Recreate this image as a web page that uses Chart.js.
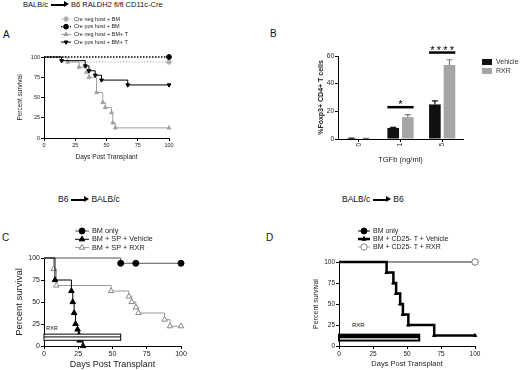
<!DOCTYPE html>
<html>
<head>
<meta charset="utf-8">
<script src="https://cdn.jsdelivr.net/npm/chart.js@4/dist/chart.umd.min.js"></script>
<style>
  body { margin: 0; background: #fff; width: 520px; height: 370px; position: relative; overflow: hidden;
         font-family: "Liberation Sans", Arial, sans-serif; color: #111; }
  canvas { position: absolute; }
  .lbl { position: absolute; line-height: 1; white-space: nowrap; }
  .arr { display: inline-block; position: relative; width: 14px; height: 2.5px; background: #000;
         vertical-align: middle; margin: 0 6px 0 3px; }
  .arr:after { content: ""; position: absolute; right: -4px; top: -2.5px; border-left: 5px solid #000;
               border-top: 3.75px solid transparent; border-bottom: 3.75px solid transparent; }
</style>
</head>
<body>
<div class="lbl" style="left:23px;top:1px;font-size:7.5px">BALB/c<span class="arr"></span>B6 RALDH2 fl/fl CD11c-Cre</div>
<div class="lbl" style="left:3px;top:30px;font-size:10px">A</div>
<div class="lbl" style="left:270px;top:29px;font-size:10px">B</div>
<div class="lbl" style="left:58px;top:195px;font-size:8.5px">B6<span class="arr"></span>BALB/c</div>
<div class="lbl" style="left:342px;top:195px;font-size:8.5px">BALB/c<span class="arr"></span>B6</div>
<div class="lbl" style="left:2px;top:233px;font-size:10px">C</div>
<div class="lbl" style="left:266px;top:233px;font-size:10px">D</div>
<div class="lbl" style="left:46px;top:326px;font-size:5.5px">RXR</div>
<div class="lbl" style="left:352px;top:322px;font-size:6px">RXR</div>

<canvas id="chartA" width="185" height="165" style="left:0;top:0"></canvas>
<canvas id="chartB" width="215" height="170" style="left:305px;top:0"></canvas>
<canvas id="chartC" width="260" height="180" style="left:0;top:190px"></canvas>
<canvas id="chartD" width="220" height="180" style="left:300px;top:190px"></canvas>

<script>
// Panel A - survival, RALDH2 fl/fl CD11c-Cre hosts
const aNegBmDays = [0, 15, 100];
const aNegBmPct = [100, 93.75, 93.75];
const aPosBmDays = [0, 100];
const aPosBmPct = [100, 100];
const aNegTDays = [0, 19, 28, 34, 36, 42, 47, 49, 54, 55, 57, 100];
const aNegTPct = [100, 93.75, 87.5, 81.25, 75, 56.25, 43.75, 37.5, 31.25, 18.75, 12.5, 12.5];
const aPosTDays = [0, 14, 33, 36, 41, 46, 67, 100];
const aPosTPct = [100, 95.5, 89, 83, 77.5, 71.5, 65.5, 65.5];

// Panel B - %Foxp3+ of CD4+ T cells
const bDoses = ['0', '1', '5'];
const bVehicle = [0.5, 8, 25];
const bVehicleErr = [0.2, 0.4, 2.6];
const bRxr = [0.3, 15.8, 53.5];
const bRxrErr = [0.1, 1.8, 3.8];
const bSigLabels = ['', '*', '****'];
const bSigLevel = [null, 23, 62.5];

// Panel C - B6 -> BALB/c
const cBmDays = [0, 56, 67, 100];
const cBmPct = [100, 94, 94, 94];
const cVehDays = [0, 8, 20, 21, 22, 23, 24.5, 25.5, 26, 28.5];
const cVehPct = [100, 75, 62.5, 50, 37.5, 25, 18.75, 12.5, 6.25, 0];
const cRxrDays = [0, 7, 9, 49, 62, 64, 67, 69, 88, 92, 100];
const cRxrPct = [100, 87.5, 68.75, 62.5, 56.25, 50, 43.75, 37.5, 30, 22.5, 22.5];
const cRxrWindow = [0, 56];

// Panel D - BALB/c -> B6
const dBmDays = [0, 100];
const dBmPct = [100, 100];
const dVehDays = [0, 35, 40, 42, 45, 47, 51, 70, 100];
const dVehPct = [100, 87.5, 75, 62.5, 50, 37.5, 25, 12.5, 12.5];
const dRxrDays = [0, 100];
const dRxrPct = [100, 100];
const dRxrWindow = [0, 59];

const FONT = '"Liberation Sans", Arial, sans-serif';

// legend drawn beside/above the plot, one row per dataset
const kmLegend = {
  id: 'kmLegend',
  afterDraw(chart, args, o) {
    const ctx = chart.ctx;
    ctx.save();
    ctx.font = o.size + 'px ' + FONT;
    ctx.textBaseline = 'middle';
    chart.data.datasets.forEach((ds, i) => {
      const y = o.y + i * o.gap;
      ctx.strokeStyle = ds.borderColor;
      ctx.lineWidth = ds.borderWidth;
      ctx.setLineDash(ds.borderDash || []);
      ctx.beginPath();
      ctx.moveTo(o.x, y);
      ctx.lineTo(o.x + o.len, y);
      ctx.stroke();
      ctx.setLineDash([]);
      ctx.fillStyle = ds.pointBackgroundColor;
      ctx.strokeStyle = ds.pointBorderColor;
      ctx.lineWidth = 1;
      Chart.helpers.drawPoint(ctx, { pointStyle: ds.pointStyle, rotation: ds.pointRotation, radius: ds.markR, borderWidth: 1 },
        o.x + o.len / 2, y);
      ctx.fillStyle = '#222';
      ctx.fillText(ds.label, o.x + o.len + 3, y);
    });
    ctx.restore();
  }
};

// RXR treatment window under the survival curves
const rxrWindow = {
  id: 'rxrWindow',
  afterDatasetsDraw(chart, args, o) {
    if (!o.days) return;
    const ctx = chart.ctx, x = chart.scales.x, y = chart.scales.y;
    const l = x.getPixelForValue(o.days[0]), r = x.getPixelForValue(o.days[1]);
    const t = y.getPixelForValue(13.5), m = y.getPixelForValue(o.mid), b = y.getPixelForValue(6.5);
    ctx.save();
    ctx.strokeStyle = '#000';
    ctx.fillStyle = '#fff';
    ctx.fillRect(l, t, r - l, b - t);
    if (o.bandFill) {
      ctx.fillStyle = '#000';
      ctx.fillRect(l, t, r - l, m - t);
    }
    ctx.lineWidth = o.width;
    ctx.strokeRect(l, t, r - l, b - t);
    ctx.beginPath();
    ctx.moveTo(l, m);
    ctx.lineTo(r, m);
    ctx.stroke();
    ctx.restore();
  }
};

function kmChart(id, sets, c) {
  return new Chart(document.getElementById(id), {
    type: 'line',
    data: {
      datasets: sets.map(s => ({
        label: s.label,
        data: s.days.map((d, i) => ({ x: d, y: s.pct[i] })),
        stepped: true,
        borderColor: s.color,
        borderWidth: s.width,
        borderDash: s.dash || [],
        pointStyle: s.style,
        pointRotation: s.rot || 0,
        pointRadius: p => (p.dataIndex === 0 || (s.endOnly && p.dataIndex < s.days.length - 1)) ? 0 : s.r,
        pointBackgroundColor: s.fill,
        pointBorderColor: s.edge,
        pointBorderWidth: 1,
        markR: s.legendR || s.r,
        order: s.order || 0,
        clip: false
      }))
    },
    options: {
      responsive: false,
      animation: false,
      layout: { padding: { left: 0, top: c.top, right: c.right, bottom: 0 } },
      plugins: {
        legend: { display: false },
        tooltip: { enabled: false },
        kmLegend: c.legend,
        rxrWindow: c.window || {}
      },
      scales: {
        x: {
          type: 'linear', min: 0, max: 100,
          afterFit: s => { s.height = c.xh; },
          ticks: { stepSize: 25, padding: 1, color: '#222', font: { size: c.tick, family: FONT } },
          grid: { display: true, drawOnChartArea: false, drawTicks: true, tickLength: 3, color: '#000' },
          border: { color: '#000' },
          title: { display: true, text: 'Days Post Transplant', color: '#222',
                   font: { size: c.xTitle, family: FONT }, padding: { top: 0, bottom: c.xPad } }
        },
        y: {
          min: 0, max: 100,
          afterFit: s => { s.width = c.yw; },
          ticks: { stepSize: 25, padding: 1, color: '#222', font: { size: c.tick, family: FONT } },
          grid: { display: true, drawOnChartArea: false, drawTicks: true, tickLength: 3, color: '#000' },
          border: { color: '#000' },
          title: { display: true, text: 'Percent survival', color: '#222',
                   font: { size: c.yTitle, family: FONT }, padding: { top: c.yPad, bottom: 0 } }
        }
      }
    },
    plugins: [rxrWindow, kmLegend]
  });
}

kmChart('chartA', [
  { label: 'Cre neg host + BM', days: aNegBmDays, pct: aNegBmPct, color: '#b0b0b0', width: 1, dash: [1.5, 1.5],
    style: 'circle', r: 2.2, fill: '#b0b0b0', edge: '#b0b0b0', endOnly: true, order: 4 },
  { label: 'Cre pos host + BM', days: aPosBmDays, pct: aPosBmPct, color: '#000', width: 1.3, dash: [1.5, 1.5],
    style: 'circle', r: 2.4, fill: '#000', edge: '#000', endOnly: true, order: 1 },
  { label: 'Cre neg host + BM+ T', days: aNegTDays, pct: aNegTPct, color: '#a0a0a0', width: 1,
    style: 'triangle', r: 2.2, fill: '#a0a0a0', edge: '#a0a0a0', order: 3 },
  { label: 'Cre pos host + BM+ T', days: aPosTDays, pct: aPosTPct, color: '#000', width: 1,
    style: 'triangle', rot: 180, r: 2.2, fill: '#000', edge: '#000', order: 2 }
], { top: 57, right: 16, xh: 27, yw: 44, tick: 5.5, xTitle: 6.5, xPad: 4, yTitle: 6.5, yPad: 16,
     legend: { x: 61, y: 19, gap: 7.7, len: 10, size: 5.5 } });

kmChart('chartC', [
  { label: 'BM only', days: cBmDays, pct: cBmPct, color: '#555', width: 1,
    style: 'circle', r: 3, fill: '#000', edge: '#000', order: 3 },
  { label: 'BM + SP + Vehicle', days: cVehDays, pct: cVehPct, color: '#000', width: 1,
    style: 'triangle', r: 3.2, fill: '#000', edge: '#000', order: 1 },
  { label: 'BM + SP + RXR', days: cRxrDays, pct: cRxrPct, color: '#999', width: 1,
    style: 'triangle', r: 3.2, fill: '#fff', edge: '#888', order: 2 }
], { top: 68, right: 79, xh: 24, yw: 44, tick: 7, xTitle: 9, xPad: 0, yTitle: 9.5, yPad: 14,
     legend: { x: 75, y: 41, gap: 8.3, len: 14, size: 7.3 },
     window: { days: cRxrWindow, mid: 10.3, width: 1, bandFill: false } });

kmChart('chartD', [
  { label: 'BM only', days: dBmDays, pct: dBmPct, color: '#000', width: 1,
    style: 'circle', r: 3, fill: '#000', edge: '#000', order: 3 },
  { label: 'BM + CD25- T + Vehicle', days: dVehDays, pct: dVehPct, color: '#000', width: 2.5,
    style: 'triangle', r: 2, legendR: 2.5, fill: '#000', edge: '#000', order: 1 },
  { label: 'BM + CD25- T + RXR', days: dRxrDays, pct: dRxrPct, color: '#aaa', width: 1,
    style: 'circle', r: 3.2, fill: '#fff', edge: '#888', order: 2 }
], { top: 72, right: 45, xh: 24, yw: 39, tick: 6.5, xTitle: 7.5, xPad: 2, yTitle: 7, yPad: 12,
     legend: { x: 58, y: 41, gap: 8, len: 12, size: 7 },
     window: { days: dRxrWindow, mid: 10.5, width: 2, bandFill: true } });

// Panel B helpers
const errBars = {
  id: 'errBars',
  afterDatasetsDraw(chart) {
    const ctx = chart.ctx, y = chart.scales.y;
    ctx.save();
    chart.data.datasets.forEach((ds, di) => {
      chart.getDatasetMeta(di).data.forEach((bar, i) => {
        const top = y.getPixelForValue(ds.data[i] + ds.err[i]);
        ctx.strokeStyle = ds.backgroundColor === '#111' ? '#111' : '#777';
        ctx.lineWidth = 1.2;
        ctx.beginPath();
        ctx.moveTo(bar.x, bar.y);
        ctx.lineTo(bar.x, top);
        ctx.moveTo(bar.x - 3, top);
        ctx.lineTo(bar.x + 3, top);
        ctx.stroke();
      });
    });
    ctx.restore();
  }
};

const sigBars = {
  id: 'sigBars',
  afterDatasetsDraw(chart, args, o) {
    const ctx = chart.ctx, y = chart.scales.y;
    ctx.save();
    o.levels.forEach((lv, i) => {
      if (lv == null) return;
      const b0 = chart.getDatasetMeta(0).data[i], b1 = chart.getDatasetMeta(1).data[i];
      const l = b0.x - b0.width / 2, r = b1.x + b1.width / 2, py = y.getPixelForValue(lv);
      ctx.strokeStyle = '#000';
      ctx.lineWidth = 2.5;
      ctx.beginPath();
      ctx.moveTo(l, py);
      ctx.lineTo(r, py);
      ctx.stroke();
      ctx.fillStyle = '#000';
      ctx.font = '11px ' + FONT;
      ctx.textAlign = 'center';
      ctx.textBaseline = 'alphabetic';
      const stars = o.labels[i].split('');
      const step = 6.5, cx = (l + r) / 2;
      stars.forEach((s, k) => ctx.fillText(s, cx + (k - (stars.length - 1) / 2) * step, py + 1));
    });
    ctx.restore();
  }
};

const boxLegend = {
  id: 'boxLegend',
  afterDraw(chart, args, o) {
    const ctx = chart.ctx;
    ctx.save();
    ctx.font = o.size + 'px ' + FONT;
    ctx.textBaseline = 'middle';
    chart.data.datasets.forEach((ds, i) => {
      const y = o.y + i * o.gap;
      ctx.fillStyle = ds.backgroundColor;
      ctx.fillRect(o.x, y - 3, 10, 6);
      ctx.fillStyle = '#333';
      ctx.fillText(ds.label, o.x + 14, y);
    });
    ctx.restore();
  }
};

new Chart(document.getElementById('chartB'), {
  type: 'bar',
  data: {
    labels: bDoses,
    datasets: [
      { label: 'Vehicle', data: bVehicle, err: bVehicleErr, backgroundColor: '#111', borderWidth: 0 },
      { label: 'RXR', data: bRxr, err: bRxrErr, backgroundColor: '#a5a5a5', borderWidth: 0 }
    ]
  },
  options: {
    responsive: false,
    animation: false,
    layout: { padding: { left: 0, top: 56, right: 57, bottom: 0 } },
    datasets: { bar: { categoryPercentage: 0.7, barPercentage: 0.8 } },
    plugins: {
      legend: { display: false },
      tooltip: { enabled: false },
      boxLegend: { x: 177, y: 62, gap: 9, size: 7 },
      sigBars: { labels: bSigLabels, levels: bSigLevel }
    },
    scales: {
      x: {
        afterFit: s => { s.height = 31; },
        ticks: { minRotation: 90, maxRotation: 90, padding: 1, color: '#222', font: { size: 6.5, family: FONT } },
        grid: { display: true, offset: false, drawOnChartArea: false, drawTicks: true, tickLength: 3, color: '#000' },
        border: { color: '#000' },
        title: { display: true, text: 'TGFb (ng/ml)', color: '#222', font: { size: 7.5, family: FONT },
                 padding: { top: 0, bottom: 6 } }
      },
      y: {
        min: 0, max: 60,
        afterFit: s => { s.width = 33; },
        ticks: { stepSize: 20, padding: 1, color: '#222', font: { size: 6.5, family: FONT } },
        grid: { display: true, drawOnChartArea: false, drawTicks: true, tickLength: 3, color: '#000' },
        border: { color: '#000' },
        title: { display: true, text: '%Foxp3+ CD4+ T cells', color: '#222',
                 font: { size: 7, weight: 'bold', family: FONT }, padding: { top: 12, bottom: 0 } }
      }
    }
  },
  plugins: [errBars, sigBars, boxLegend]
});
</script>
</body>
</html>
